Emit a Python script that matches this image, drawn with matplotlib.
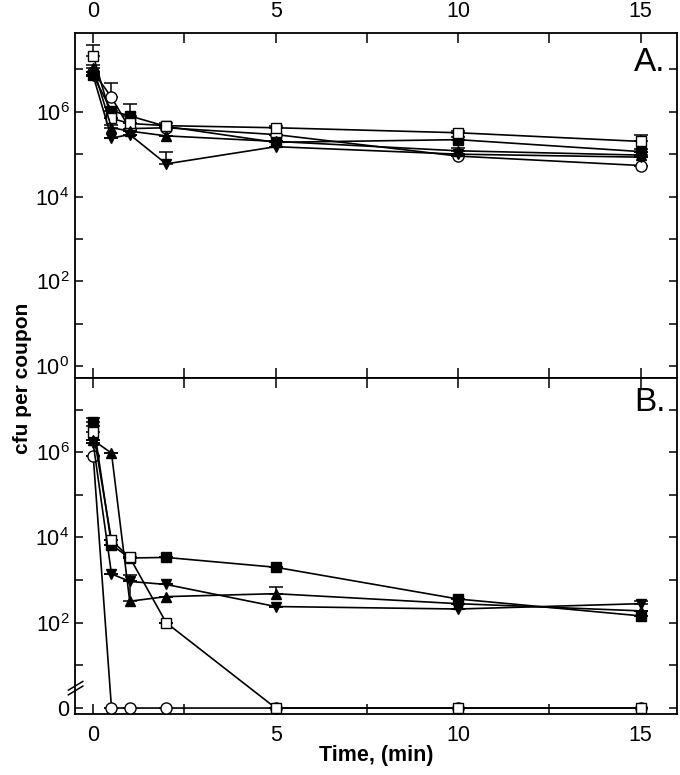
import numpy as np
import matplotlib.pyplot as plt
from matplotlib.ticker import FixedLocator, FixedFormatter

plt.rcParams['font.family'] = ['Liberation Sans', 'DejaVu Sans']
plt.rcParams['mathtext.fontset'] = 'custom'
plt.rcParams['mathtext.rm'] = 'Liberation Sans'

# Time points (min)
time = [0, 0.5, 1, 2, 5, 10, 15]

# Panel A, cfu per coupon
a_circle = [8.7e6, 2.2e6, 4.0e5, 4.2e5, 2.9e5, 9.0e4, 5.4e4]
a_fsquare = [7.2e6, 1.05e6, 8.0e5, 4.5e5, 1.9e5, 2.2e5, 1.15e5]
a_osquare = [2.1e7, 7.0e5, 5.3e5, 4.7e5, 4.2e5, 3.2e5, 2.0e5]
a_tri_up = [1.1e7, 4.2e5, 3.5e5, 2.7e5, 2.0e5, 1.2e5, 9.5e4]
a_tri_dn = [7.0e6, 2.4e5, 2.9e5, 5.9e4, 1.5e5, 1.0e5, 8.5e4]

# upper end of error bars (0 = none)
a_circle_top = [0, 4.8e6, 0, 0, 0, 0, 0]
a_fsquare_top = [0, 1.3e6, 1.5e6, 0, 0, 2.6e5, 1.3e5]
a_osquare_top = [3.8e7, 0, 0, 5.3e5, 4.7e5, 3.6e5, 2.9e5]
a_tri_up_top = [1.3e7, 5.0e5, 0, 0, 0, 1.4e5, 1.1e5]
a_tri_dn_top = [0, 0, 0, 1.15e5, 0, 0, 0]

# Panel B, cfu per coupon (0 = none recovered)
b_circle = [8.0e5, 0, 0, 0, 0, 0, 0]
b_fsquare = [5.1e6, 6.7e3, 3.3e3, 3.4e3, 2.0e3, 3.6e2, 1.45e2]
b_osquare = [3.0e6, 8.5e3, 3.4e3, 1.0e2, 0, 0, 0]
b_tri_up = [1.9e6, 9.5e5, 3.2e2, 4.1e2, 4.8e2, 2.8e2, 1.9e2]
b_tri_dn = [1.6e6, 1.4e3, 9.3e2, 7.9e2, 2.4e2, 2.1e2, 2.8e2]

b_circle_top = [0, 0, 0, 0, 0, 0, 0]
b_fsquare_top = [6.3e6, 0, 0, 0, 0, 0, 0]
b_osquare_top = [4.0e6, 0, 0, 0, 0, 0, 0]
b_tri_up_top = [0, 0, 1.35e3, 0, 7.0e2, 0, 0]
b_tri_dn_top = [0, 0, 0, 0, 0, 0, 3.3e2]

styles = [('o', 'white', 8), ('s', 'black', 7.5), ('s', 'white', 7.5),
          ('^', 'black', 7.5), ('v', 'black', 7.5)]

fig = plt.figure(figsize=(6.8, 7.75), dpi=100)
axA = fig.add_axes([0.1103, 0.5123, 0.8853, 0.4452])
axB = fig.add_axes([0.1103, 0.0787, 0.8853, 0.4336])


def draw(ax, series, tops):
    for vals, top, (m, fc, ms) in zip(series, tops, styles):
        y = np.array(vals, dtype=float)
        y[y == 0] = 1.0  # zero plotted on the broken-axis baseline
        top = np.array(top, dtype=float)
        up = np.where(top > 0, top - y, 0)
        ax.errorbar(time, y, yerr=[np.zeros_like(up), up], fmt='none',
                    ecolor='black', elinewidth=1.1, capsize=5, capthick=1.1, zorder=2)
        ax.plot(time, y, color='black', lw=1.2, marker=m, ms=ms,
                mfc=fc, mec='black', mew=1.0, zorder=3)


draw(axA, [a_circle, a_fsquare, a_osquare, a_tri_up, a_tri_dn],
     [a_circle_top, a_fsquare_top, a_osquare_top, a_tri_up_top, a_tri_dn_top])
draw(axB, [b_circle, b_fsquare, b_osquare, b_tri_up, b_tri_dn],
     [b_circle_top, b_fsquare_top, b_osquare_top, b_tri_up_top, b_tri_dn_top])

decades = [10.0 ** k for k in range(0, 8)]
for ax in (axA, axB):
    ax.set_yscale('log')
    ax.set_xlim(-0.5, 16.0)
    ax.yaxis.set_major_locator(FixedLocator(decades))
    ax.yaxis.set_minor_locator(FixedLocator([]))
    ax.xaxis.set_major_locator(FixedLocator([0, 5, 10, 15]))
    ax.xaxis.set_minor_locator(FixedLocator([2.5, 7.5, 12.5]))
    ax.tick_params(which='both', direction='in', top=True, right=True,
                   width=1.1, labelsize=15.5)
    ax.tick_params(axis='y', which='major', length=6, pad=4)
    ax.tick_params(axis='x', which='major', length=7, pad=8)
    ax.tick_params(axis='x', which='minor', length=7)
    for s in ax.spines.values():
        s.set_linewidth(1.3)

axA.set_ylim(10 ** -0.28, 10 ** 7.86)
axB.set_ylim(10 ** -0.14, 10 ** 7.74)

labA = ['$10^{%d}$' % k if k % 2 == 0 else '' for k in range(0, 8)]
labB = ['0' if k == 0 else ('$10^{%d}$' % k if k % 2 == 0 else '') for k in range(0, 8)]
axA.yaxis.set_major_formatter(FixedFormatter(labA))
axB.yaxis.set_major_formatter(FixedFormatter(labB))

axA.tick_params(axis='x', labeltop=True, labelbottom=False)
axB.tick_params(axis='x', labeltop=False, labelbottom=True)

axA.text(0.955, 0.913, 'A.', transform=axA.transAxes, ha='center', va='center', fontsize=24)
axB.text(0.955, 0.926, 'B.', transform=axB.transAxes, ha='center', va='center', fontsize=24)

# axis break marks on the B y-axis
for dy in (0.0, 0.014):
    axB.plot([-0.011, 0.013], [0.057 + dy, 0.083 + dy], transform=axB.transAxes,
             color='black', lw=1.1, clip_on=False, zorder=5)

fig.text(0.033, 0.512, 'cfu per coupon', rotation=90, ha='center', va='center',
         fontsize=15, fontweight='bold')
fig.text(0.553, 0.025, 'Time, (min)', ha='center', va='center',
         fontsize=15.5, fontweight='bold')

fig.savefig('out.png', dpi=100)
